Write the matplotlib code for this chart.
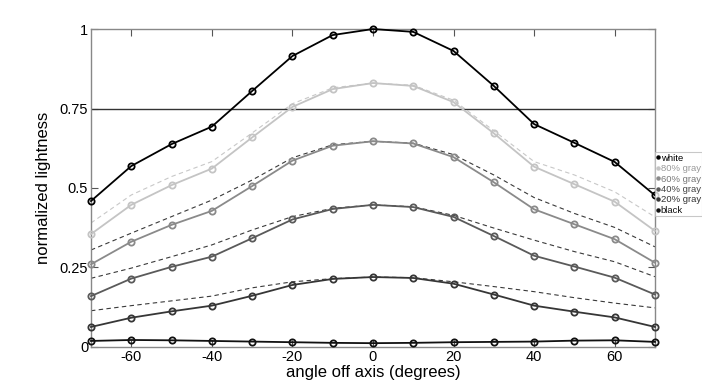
import numpy as np
import matplotlib.pyplot as plt

plt.rcParams['font.family'] = ['Liberation Sans', 'DejaVu Sans']
plt.rcParams['axes.unicode_minus'] = False

angles = [-70, -60, -50, -40, -30, -20, -10, 0, 10, 20, 30, 40, 50, 60, 70]

labels = ['white', '80% gray', '60% gray', '40% gray', '20% gray', 'black']

white = [0.459, 0.569, 0.638, 0.693, 0.805, 0.915, 0.981, 1.0, 0.991, 0.931, 0.821, 0.701, 0.642, 0.582, 0.477]
gray80 = [0.355, 0.447, 0.509, 0.561, 0.659, 0.755, 0.811, 0.830, 0.821, 0.770, 0.672, 0.567, 0.512, 0.457, 0.365]
gray60 = [0.260, 0.331, 0.384, 0.428, 0.506, 0.586, 0.633, 0.647, 0.640, 0.597, 0.518, 0.433, 0.386, 0.339, 0.265]
gray40 = [0.160, 0.215, 0.252, 0.284, 0.342, 0.401, 0.434, 0.447, 0.440, 0.409, 0.349, 0.287, 0.253, 0.218, 0.165]
gray20 = [0.063, 0.092, 0.112, 0.130, 0.161, 0.195, 0.214, 0.220, 0.217, 0.199, 0.165, 0.130, 0.111, 0.093, 0.063]
black = [0.019, 0.022, 0.021, 0.019, 0.017, 0.015, 0.013, 0.012, 0.013, 0.015, 0.016, 0.017, 0.020, 0.021, 0.016]

# dashed reference curves
ref80 = [0.390, 0.478, 0.536, 0.583, 0.673, 0.765, 0.815, 0.830, 0.823, 0.776, 0.680, 0.583, 0.541, 0.488, 0.409]
ref60 = [0.305, 0.358, 0.410, 0.462, 0.525, 0.595, 0.636, 0.647, 0.641, 0.605, 0.541, 0.470, 0.420, 0.376, 0.315]
ref40 = [0.216, 0.248, 0.284, 0.321, 0.368, 0.410, 0.436, 0.447, 0.441, 0.414, 0.374, 0.336, 0.300, 0.268, 0.221]
ref20 = [0.114, 0.130, 0.145, 0.160, 0.186, 0.205, 0.215, 0.220, 0.218, 0.205, 0.190, 0.174, 0.155, 0.138, 0.123]

series = [white, gray80, gray60, gray40, gray20, black]
colors = ['#000000', '#c4c4c4', '#8a8a8a', '#5a5a5a', '#363636', '#111111']
refs = [ref80, ref60, ref40, ref20]
ref_colors = ['#c8c8c8', '#3a3a3a', '#3a3a3a', '#3a3a3a']

fig = plt.figure(figsize=(7.02, 3.90), dpi=100)
ax = fig.add_axes([0.1296, 0.1103, 0.8034, 0.8153])

for r, c in zip(refs, ref_colors):
    ax.plot(angles, r, '--', color=c, lw=0.8, dashes=(4, 3))

ax.axhline(0.75, color='#333333', lw=1.0)

for s, c, lab in zip(series, colors, labels):
    ax.plot(angles, s, '-', color=c, lw=1.3, marker='o', ms=4.5,
            mfc='none', mec=c, mew=1.3, clip_on=False, label=lab, zorder=3)

ax.set_xlim(-70, 70)
ax.set_ylim(0, 1)
ax.set_xticks([-60, -40, -20, 0, 20, 40, 60])
ax.set_yticks([0, 0.25, 0.5, 0.75, 1])
ax.set_yticklabels(['0', '0.25', '0.5', '0.75', '1'])
ax.tick_params(direction='in', length=5, width=0.8, color='#555555',
               labelsize=10.5, top=True, right=True, pad=2)
for sp in ax.spines.values():
    sp.set_color('#888888')
    sp.set_linewidth(1.0)

ax.set_xlabel('angle off axis (degrees)', fontsize=12, labelpad=1)
ax.set_ylabel('normalized lightness', fontsize=12, labelpad=6)

handles = [plt.Line2D([], [], ls='none', marker='o', ms=2.2, color=c) for c in colors]
leg = ax.legend(handles, labels, loc='upper left', bbox_to_anchor=(1.0, 0.612),
                fontsize=6.8, frameon=True, fancybox=False, borderpad=0.15,
                labelspacing=0.15, handlelength=0.3, handletextpad=0.15,
                borderaxespad=0)
leg.get_frame().set_edgecolor('#bbbbbb')
leg.get_frame().set_linewidth(0.8)
for t, c in zip(leg.get_texts(), ['#000000', '#999999', '#777777', '#444444', '#333333', '#111111']):
    t.set_color(c)

fig.savefig('out.png', dpi=100)
